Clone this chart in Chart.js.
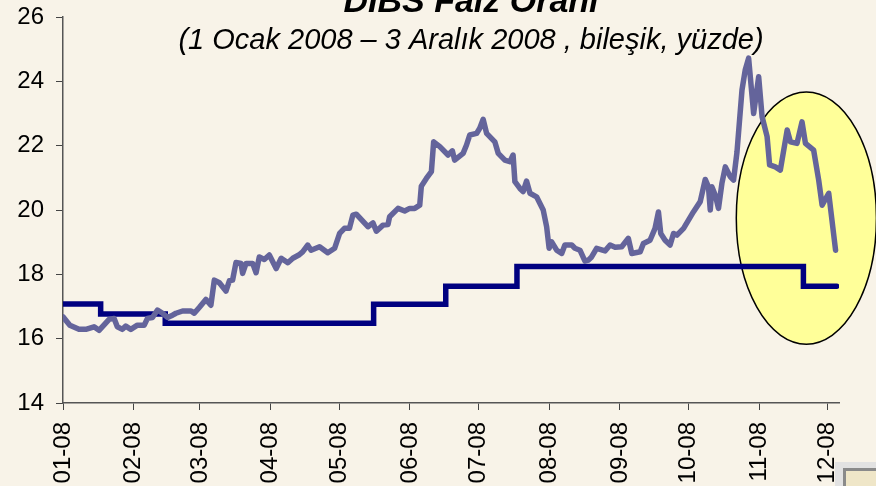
<!DOCTYPE html>
<html>
<head>
<meta charset="utf-8">
<script src="https://cdn.jsdelivr.net/npm/chart.js@4"></script>
<style>
  body { margin: 0; background: #f8f3e8; }
  canvas { display: block; }
</style>
</head>
<body>
<canvas id="chart" width="876" height="486"></canvas>
<script>
// days since 1 Jan 2008
const tickDays = [0, 31, 60, 91, 121, 152, 182, 213, 244, 274, 305, 335];
const tickLabels = ['01-08', '02-08', '03-08', '04-08', '05-08', '06-08', '07-08', '08-08', '09-08', '10-08', '11-08', '12-08'];

const dibsDays = [0,3,7,10,13.6,15.8,20.2,22.4,23.8,26,
  27.5,29.7,32.6,35.6,37,39.2,41.4,43.6,45.8,48,
  49.5,52.4,56.1,57.5,59.7,62.6,64.8,66.3,68.5,71.4,
  72.9,74.3,75.8,78,78.7,80.2,83.1,84.6,86,88.2,
  90.4,93.4,95.6,98.5,100.7,103.3,105,107.2,108.7,112.4,
  116,119,121.2,123.3,125.5,127,128.5,133.6,135.8,137.3,
  140.2,142.4,143.1,146.8,149.7,151.9,154.1,156.3,157,159.2,
  161.4,162.4,165.1,168.7,170.6,171.6,175.3,176.8,178.2,181.2,
  182.6,184.1,185.6,189.2,190.7,193.6,195.8,197.2,198,200.2,
  201.6,203.1,204.6,207.5,210.4,211.9,213,214.1,216.3,218.5,
  219.9,222.9,224.3,226.5,228.7,230.2,231.6,233.8,237.5,239.7,
  241.9,244.8,247.7,249.2,252.9,254.3,257.2,259.4,260.9,261.9,
  263.8,266,267.5,269,271.9,276.2,279.2,281.4,282.8,283.6,
  284.3,285.8,287.2,288.7,290.2,292.4,293.8,295.3,297.5,298.9,
  300.4,302.6,304.8,306.3,308.5,309.6,312.1,314.3,317.3,318.7,
  321.6,323.8,325.3,328.9,331.1,332.6,335.5,338.5];

const dibsRate = [16.68,16.42,16.29,16.29,16.37,16.26,16.60,16.63,16.37,16.29,
  16.39,16.29,16.42,16.42,16.63,16.66,16.89,16.79,16.66,16.73,
  16.79,16.86,16.86,16.79,16.97,17.22,17.04,17.82,17.74,17.48,
  17.80,17.82,18.37,18.34,18.03,18.34,18.34,18.05,18.54,18.46,
  18.60,18.18,18.50,18.36,18.50,18.60,18.70,18.91,18.75,18.86,
  18.67,18.81,19.27,19.43,19.43,19.84,19.87,19.48,19.60,19.34,
  19.53,19.55,19.79,20.05,19.97,20.05,20.05,20.15,20.74,20.98,
  21.19,22.12,21.97,21.71,21.84,21.55,21.76,22.02,22.33,22.38,
  22.54,22.82,22.38,22.12,21.76,21.55,21.50,21.71,20.88,20.67,
  20.57,20.90,20.52,20.41,20.00,19.48,18.81,19.01,18.75,18.65,
  18.91,18.91,18.81,18.75,18.41,18.44,18.54,18.81,18.73,18.91,
  18.84,18.86,19.12,18.65,18.70,18.96,19.06,19.43,19.94,19.27,
  19.06,18.91,19.27,19.22,19.43,19.94,20.26,20.95,20.72,20.00,
  20.72,20.46,20.05,20.83,21.34,21.03,20.93,21.80,23.73,24.35,
  24.72,23.00,24.14,22.90,22.28,21.40,21.34,21.24,22.49,22.12,
  22.07,22.74,22.07,21.86,20.93,20.15,20.52,18.75];

// policy rate (compounded), step changes
const policyDays = [0, 16.5, 44.8, 136.1, 167.7, 198.9, 324.4, 339];
const policyRate = [17.08, 16.77, 16.48, 17.07, 17.63, 18.24, 17.63, 17.63];

const FONT = "'Liberation Sans', Arial, sans-serif";
const BG = '#f8f3e8';

const bgPlugin = {
  id: 'bg',
  beforeDraw(chart) {
    const c = chart.ctx;
    c.save();
    c.fillStyle = BG;
    c.fillRect(0, 0, chart.width, chart.height);
    c.restore();
  }
};

// yellow highlight ellipse around the last weeks
const ellipsePlugin = {
  id: 'ellipse',
  beforeDatasetsDraw(chart) {
    const x = chart.scales.x, y = chart.scales.y;
    const cx = x.getPixelForValue(325.7), cy = y.getPixelForValue(19.75);
    const rx = x.getPixelForValue(325.7 + 30.7) - cx;
    const ry = y.getPixelForValue(19.75) - y.getPixelForValue(19.75 + 3.92);
    const c = chart.ctx;
    c.save();
    c.beginPath();
    c.ellipse(cx, cy, rx, ry, 0, 0, Math.PI * 2);
    c.fillStyle = '#ffff99';
    c.fill();
    c.lineWidth = 1.5;
    c.strokeStyle = '#000';
    c.stroke();
    c.restore();
  }
};

const titlePlugin = {
  id: 'titles',
  afterDraw(chart) {
    const c = chart.ctx;
    c.save();
    c.fillStyle = '#000';
    c.textAlign = 'center';
    c.textBaseline = 'alphabetic';
    c.font = 'italic bold 34px ' + FONT;
    c.fillText('DİBS Faiz Oranı', 471, 12);
    c.font = 'italic 29px ' + FONT;
    c.fillText('(1 Ocak 2008 – 3 Aralık 2008 , bileşik, yüzde)', 471, 49);
    // little corner widget
    c.fillStyle = '#e2e2e2';
    c.fillRect(835, 462, 41, 24);
    c.fillStyle = '#8a8a8a';
    c.fillRect(843, 468, 33, 18);
    c.fillStyle = '#efe6c8';
    c.fillRect(846, 471, 30, 15);
    c.restore();
  }
};

new Chart(document.getElementById('chart'), {
  type: 'line',
  data: {
    datasets: [{
      label: 'DİBS',
      data: dibsDays.map((d, i) => ({ x: d, y: dibsRate[i] })),
      borderColor: '#64649b',
      borderWidth: 5.5,
      borderJoinStyle: 'round',
      borderCapStyle: 'round',
      pointRadius: 0,
      tension: 0
    }, {
      label: 'Politika faizi',
      data: policyDays.map((d, i) => ({ x: d, y: policyRate[i] })),
      borderColor: '#000080',
      borderWidth: 5.5,
      borderCapStyle: 'round',
      pointRadius: 0,
      stepped: true
    }]
  },
  options: {
    responsive: false,
    animation: false,
    layout: { padding: { top: 17, right: 37, left: 0, bottom: 0 } },
    plugins: { legend: { display: false }, tooltip: { enabled: false } },
    scales: {
      x: {
        type: 'linear',
        min: 0,
        max: 340,
        afterBuildTicks(scale) { scale.ticks = tickDays.map(v => ({ value: v })); },
        afterFit(scale) {
          scale.height = 83;
          scale.paddingLeft = 0;
          scale.paddingRight = 0;
        },
        grid: { drawOnChartArea: false, tickLength: 7, color: '#444' },
        border: { color: '#555', width: 1.5 },
        ticks: {
          autoSkip: false,
          minRotation: 90,
          maxRotation: 90,
          padding: 12,
          color: '#000',
          font: { family: FONT, size: 24 },
          callback: (v, i) => tickLabels[i]
        }
      },
      y: {
        min: 14,
        max: 26,
        afterFit(scale) {
          scale.width = 63;
          scale.paddingTop = 0;
          scale.paddingBottom = 0;
        },
        grid: { drawOnChartArea: false, tickLength: 7, color: '#444' },
        border: { color: '#555', width: 1.5 },
        ticks: {
          stepSize: 2,
          padding: 12,
          color: '#000',
          font: { family: FONT, size: 24 }
        }
      }
    }
  },
  plugins: [bgPlugin, ellipsePlugin, titlePlugin]
});
</script>
</body>
</html>
